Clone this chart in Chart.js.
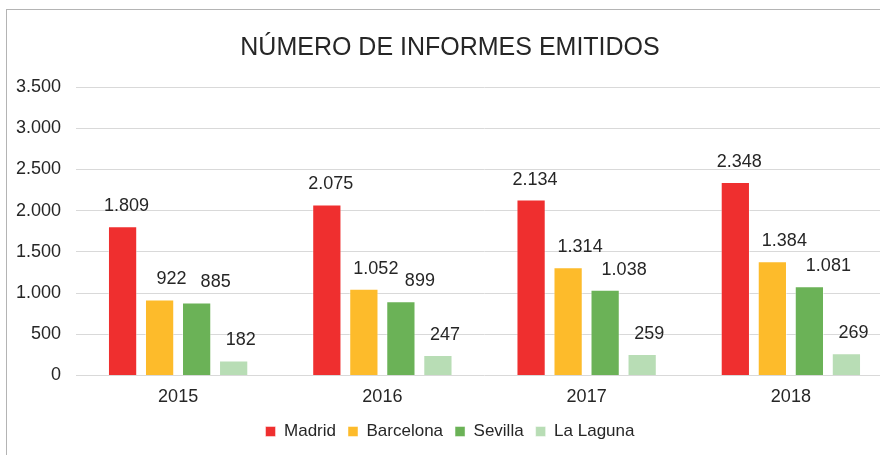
<!DOCTYPE html>
<html>
<head>
<meta charset="utf-8">
<script src="https://cdn.jsdelivr.net/npm/chart.js@4/dist/chart.umd.min.js"></script>
<style>
html, body { margin: 0; padding: 0; background: #fff; overflow: hidden; width: 880px; height: 455px; }
#frame { position: absolute; left: 6px; top: 9px; width: 900px; height: 480px; border-top: 1px solid #b4b4b4; border-left: 1px solid #b4b4b4; }
#wrap { position: absolute; left: 0; top: 0; width: 886px; height: 440px; }
</style>
</head>
<body>
<div id="frame"><div id="wrap"><canvas id="c"></canvas></div></div>
<script>
var years = ["2015", "2016", "2017", "2018"];
var madrid = [1809, 2075, 2134, 2348];
var barcelona = [922, 1052, 1314, 1384];
var sevilla = [885, 899, 1038, 1081];
var laguna = [182, 247, 259, 269];
var yTicks = [0, 500, 1000, 1500, 2000, 2500, 3000, 3500];

var FONT = "'Liberation Sans', Arial, sans-serif";
var INK = "#262626";

function fmt(v) {
    return String(v).replace(/\B(?=(\d{3})+(?!\d))/g, ".");
}

// labels sit a bit to the right of each bar, like in the source
var labelShift = [4, 12, 19, 7];

var valueLabels = {
    id: "valueLabels",
    afterDatasetsDraw: function (chart) {
        var ctx = chart.ctx;
        ctx.save();
        ctx.font = "18px " + FONT;
        ctx.fillStyle = INK;
        ctx.textAlign = "center";
        ctx.textBaseline = "middle";
        chart.data.datasets.forEach(function (ds, i) {
            chart.getDatasetMeta(i).data.forEach(function (bar, j) {
                ctx.fillText(fmt(ds.data[j]), bar.x + labelShift[i], bar.y - 20);
            });
        });
        ctx.restore();
    }
};

function mk(label, data, color) {
    return {
        label: label,
        data: data,
        backgroundColor: color,
        borderColor: "rgba(255,255,255,0.45)",
        borderWidth: 1,
        categoryPercentage: 0.725,
        barPercentage: 0.79
    };
}

new Chart(document.getElementById("c"), {
    type: "bar",
    data: {
        labels: years,
        datasets: [
            mk("Madrid", madrid, "#EF2F2F"),
            mk("Barcelona", barcelona, "#FDBB2B"),
            mk("Sevilla", sevilla, "#6BB257"),
            mk("La Laguna", laguna, "#B8DDB5")
        ]
    },
    options: {
        responsive: true,
        maintainAspectRatio: false,
        animation: false,
        layout: { padding: 0 },
        plugins: {
            title: {
                display: true,
                text: "NÚMERO DE INFORMES EMITIDOS",
                color: INK,
                font: { family: FONT, size: 25, weight: "normal", lineHeight: 1.2 },
                padding: { top: 23, bottom: 24 }
            },
            legend: {
                position: "bottom",
                labels: {
                    color: INK,
                    font: { family: FONT, size: 17 },
                    boxWidth: 10,
                    boxHeight: 10,
                    padding: 12
                }
            },
            tooltip: { enabled: false }
        },
        scales: {
            x: {
                grid: { display: false },
                border: { display: false },
                ticks: { color: INK, font: { family: FONT, size: 18 }, padding: 3 }
            },
            y: {
                min: 0,
                max: 3500,
                afterBuildTicks: function (s) {
                    s.ticks = yTicks.map(function (v) { return { value: v }; });
                },
                afterFit: function (s) { s.width = 69; },
                grid: { color: "#d9d9d9", lineWidth: 1, drawTicks: false },
                border: { display: false },
                ticks: {
                    color: INK,
                    font: { family: FONT, size: 18 },
                    padding: 15,
                    callback: function (v) { return fmt(v); }
                }
            }
        }
    },
    plugins: [valueLabels]
});
</script>
</body>
</html>
